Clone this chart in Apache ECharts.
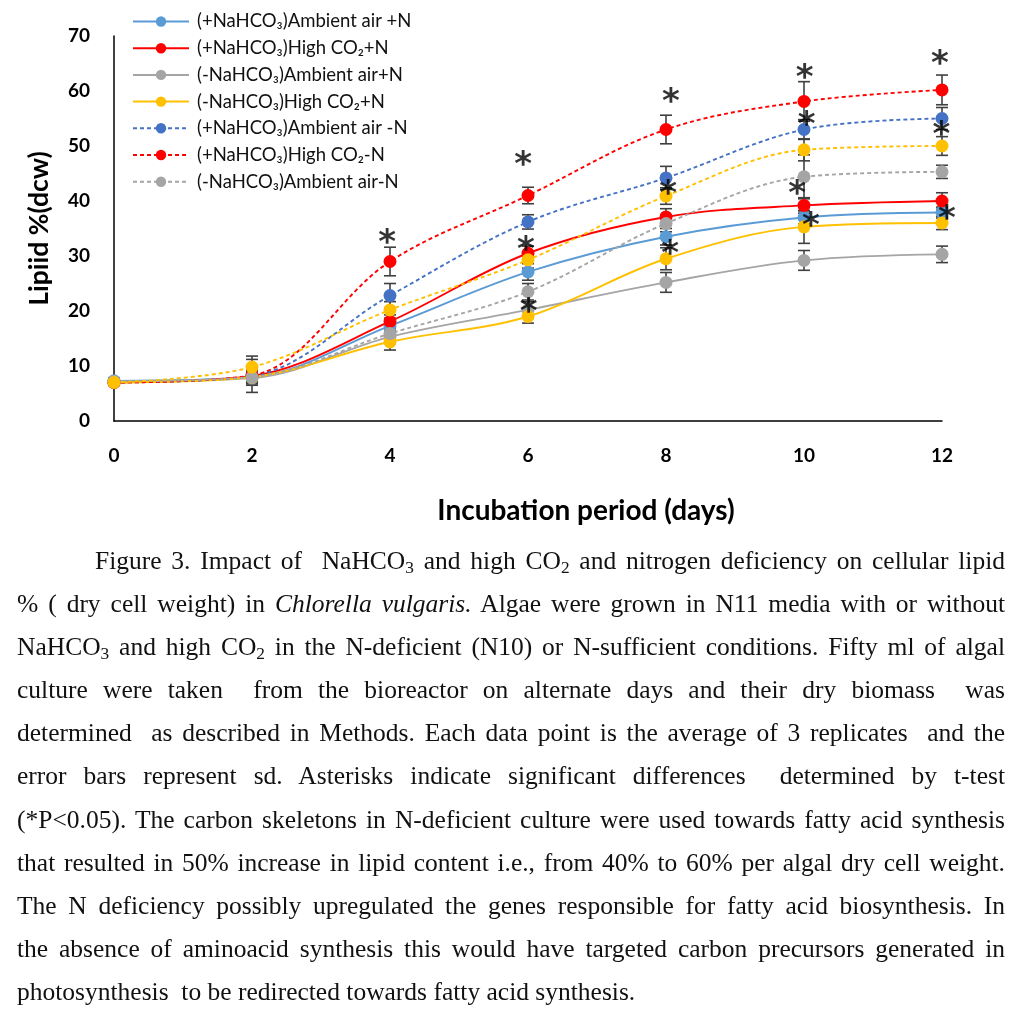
<!DOCTYPE html>
<html>
<head>
<meta charset="utf-8">
<script src="https://cdn.jsdelivr.net/npm/echarts@6/dist/echarts.min.js"></script>
<style>
  html, body { margin:0; padding:0; background:#fff; }
  #chart { position:absolute; left:0; top:0; width:1024px; height:1024px; }
  #caption { position:absolute; left:17px; top:539px; width:988px; font-family:"Liberation Serif","Times New Roman",serif; font-size:25.5px; color:#111; }
  #caption .ln { height:43.1px; line-height:43.1px; text-align:justify; text-align-last:justify; white-space:normal; overflow:hidden; }
  #caption .ln.first { padding-left:78px; }
  #caption .ln.last { text-align-last:left; }
  #caption sub { font-size:0.68em; vertical-align:-0.25em; line-height:0; }
</style>
</head>
<body>
<div id="chart"></div>
<div id="caption">
  <div class="ln first">Figure 3. Impact of&nbsp; NaHCO<sub>3</sub> and high CO<sub>2</sub> and nitrogen deficiency on cellular lipid</div>
  <div class="ln">% ( dry cell weight) in <i>Chlorella vulgaris.</i> Algae were grown in N11 media with or without</div>
  <div class="ln">NaHCO<sub>3</sub> and high CO<sub>2</sub> in the N-deficient (N10) or N-sufficient conditions. Fifty ml of algal</div>
  <div class="ln">culture were taken&nbsp; from the bioreactor on alternate days and their dry biomass&nbsp; was</div>
  <div class="ln">determined&nbsp; as described in Methods. Each data point is the average of 3 replicates&nbsp; and the</div>
  <div class="ln">error bars represent sd. Asterisks indicate significant differences&nbsp; determined by t-test</div>
  <div class="ln">(*P&lt;0.05). The carbon skeletons in N-deficient culture were used towards fatty acid synthesis</div>
  <div class="ln">that resulted in 50% increase in lipid content i.e., from 40% to 60% per algal dry cell weight.</div>
  <div class="ln">The N deficiency possibly upregulated the genes responsible for fatty acid biosynthesis. In</div>
  <div class="ln">the absence of aminoacid synthesis this would have targeted carbon precursors generated in</div>
  <div class="ln last">photosynthesis&nbsp; to be redirected towards fatty acid synthesis.</div>
</div>
<script>
// ---- data ----
const days = [0, 2, 4, 6, 8, 10, 12];
const yTicks = [0, 10, 20, 30, 40, 50, 60, 70];

const seriesNames = [
  "(+NaHCO₃)Ambient air +N",
  "(+NaHCO₃)High CO₂+N",
  "(-NaHCO₃)Ambient air+N",
  "(-NaHCO₃)High CO₂+N",
  "(+NaHCO₃)Ambient air -N",
  "(+NaHCO₃)High CO₂-N",
  "(-NaHCO₃)Ambient air-N",
  "(-NaHCO₃)High CO₂-N"
];
const legendNames = seriesNames.slice(0, 7);

const plusAmbientN   = [7.3, 8.0, 17.3, 27.1, 33.5, 37.0, 37.9];
const plusHighCO2N   = [7.0, 8.2, 18.1, 30.5, 37.1, 39.2, 40.0];
const minusAmbientN  = [7.2, 7.8, 15.3, 20.2, 25.2, 29.2, 30.3];
const minusHighCO2N  = [7.0, 8.0, 14.4, 19.0, 29.5, 35.3, 36.0];
const plusAmbientNoN = [7.0, 8.2, 22.8, 36.2, 44.2, 53.0, 55.0];
const plusHighCO2NoN = [7.0, 8.3, 29.0, 41.0, 53.0, 58.1, 60.2];
const minusAmbientNoN= [7.2, 8.0, 15.9, 23.5, 35.9, 44.4, 45.3];
const minusHighCO2NoN= [7.0, 9.8, 20.2, 29.3, 40.9, 49.3, 50.0];

const sdPlusAmbientN   = [0.5, 1.0, 1.2, 1.5, 1.5, 1.2, 1.0];
const sdPlusHighCO2N   = [0.5, 1.0, 1.2, 1.3, 1.5, 1.4, 1.5];
const sdMinusAmbientN  = [0.5, 1.0, 1.2, 1.5, 1.8, 1.8, 1.5];
const sdMinusHighCO2N  = [0.5, 1.2, 1.5, 1.2, 2.0, 3.0, 1.2];
const sdPlusAmbientNoN = [0.5, 3.0, 2.2, 1.3, 2.1, 1.8, 2.0];
const sdPlusHighCO2NoN = [0.5, 1.5, 2.6, 1.5, 2.6, 3.6, 2.7];
const sdMinusAmbientNoN= [0.5, 1.5, 1.5, 1.5, 1.5, 4.0, 1.2];
const sdMinusHighCO2NoN= [0.5, 2.0, 1.5, 1.5, 1.5, 2.0, 1.7];

// asterisk (significance) marks: x (days) and y (lipid %)
const starX = [3.96, 5.93, 5.97, 6.01, 8.07, 8.03, 8.06, 10.01, 10.04, 9.90, 10.10, 11.97, 11.99, 12.07];
const starY = [33.6, 47.8, 32.4, 21.1, 59.3, 42.5, 31.6, 63.6, 55.1, 42.5, 36.7, 66.2, 53.3, 38.0];

// ---- styles ----
const values = [plusAmbientN, plusHighCO2N, minusAmbientN, minusHighCO2N, plusAmbientNoN, plusHighCO2NoN, minusAmbientNoN, minusHighCO2NoN];
const sds = [sdPlusAmbientN, sdPlusHighCO2N, sdMinusAmbientN, sdMinusHighCO2N, sdPlusAmbientNoN, sdPlusHighCO2NoN, sdMinusAmbientNoN, sdMinusHighCO2NoN];
const colors = ["#5B9BD5", "#FF0000", "#A5A5A5", "#FFC000", "#4472C4", "#FF0000", "#A5A5A5", "#FFC000"];
const dashed = [false, false, false, false, true, true, true, true];

const chartFont = "Lato, 'Open Sans', 'DejaVu Sans', sans-serif";

const chart = echarts.init(document.getElementById('chart'), null, { renderer: 'canvas' });

const errData = [];
values.forEach((vals, i) => {
  vals.forEach((v, j) => {
    errData.push([days[j], v - sds[i][j], v + sds[i][j]]);
  });
});

const series = [];
series.push({
  type: 'custom',
  name: 'err',
  z: 1,
  silent: true,
  data: errData,
  encode: { x: 0, y: [1, 2] },
  renderItem: function (params, api) {
    const x = api.value(0);
    const lo = api.coord([x, api.value(1)]);
    const hi = api.coord([x, api.value(2)]);
    const w = 6;
    const st = { stroke: '#404040', lineWidth: 1.6 };
    return {
      type: 'group',
      children: [
        { type: 'line', shape: { x1: lo[0], y1: lo[1], x2: hi[0], y2: hi[1] }, style: st },
        { type: 'line', shape: { x1: lo[0] - w, y1: lo[1], x2: lo[0] + w, y2: lo[1] }, style: st },
        { type: 'line', shape: { x1: hi[0] - w, y1: hi[1], x2: hi[0] + w, y2: hi[1] }, style: st }
      ]
    };
  }
});

values.forEach((vals, i) => {
  series.push({
    type: 'line',
    name: seriesNames[i],
    z: 2 + i,
    smooth: 0.35,
    symbol: 'circle',
    symbolSize: 13,
    data: vals.map((v, j) => [days[j], v]),
    lineStyle: { color: colors[i], width: 1.9, type: dashed[i] ? [4, 3] : 'solid' },
    itemStyle: { color: colors[i] },
    emphasis: { disabled: true }
  });
});

series.push({
  type: 'scatter',
  name: 'sig',
  z: 20,
  silent: true,
  clip: false,
  symbolSize: 1,
  itemStyle: { color: 'rgba(0,0,0,0)' },
  data: starX.map((x, k) => [x, starY[k]]),
  label: {
    show: true,
    position: 'inside',
    formatter: '*',
    color: '#000',
    fontSize: 34,
    fontWeight: 'bold',
    fontFamily: "'DejaVu Sans', sans-serif",
    offset: [0, 8]
  }
});

chart.setOption({
  animation: false,
  backgroundColor: '#fff',
  textStyle: { fontFamily: chartFont },
  grid: { left: 114, right: 82, top: 36, bottom: 603, containLabel: false },
  legend: {
    data: legendNames,
    orient: 'vertical',
    left: 127,
    top: 7,
    itemWidth: 56,
    itemHeight: 13,
    itemGap: 7.7,
    selectedMode: false,
    textStyle: { fontFamily: chartFont, fontSize: 18.5, color: '#111', padding: [0, 0, 0, 3] }
  },
  xAxis: {
    type: 'value',
    min: 0, max: 12, interval: 2,
    name: 'Incubation period (days)',
    nameLocation: 'middle',
    nameGap: 76,
    nameTextStyle: { fontFamily: chartFont, fontSize: 28, fontWeight: 'bold', color: '#000', padding: [0, 0, 0, 116] },
    axisLine: { lineStyle: { color: '#000', width: 1.5 } },
    axisTick: { show: false },
    splitLine: { show: false },
    axisLabel: { fontSize: 19, fontWeight: 'bold', color: '#000', margin: 25, fontFamily: chartFont,
      formatter: v => days.includes(v) ? String(v) : '' }
  },
  yAxis: {
    type: 'value',
    min: yTicks[0], max: yTicks[yTicks.length - 1], interval: 10,
    name: 'Lipiid %(dcw)',
    nameLocation: 'middle',
    nameGap: 61,
    nameTextStyle: { fontFamily: chartFont, fontSize: 26.5, fontWeight: 'bold', color: '#000' },
    axisLine: { show: true, lineStyle: { color: '#000', width: 1.5 } },
    axisTick: { show: false },
    splitLine: { show: false },
    axisLabel: { fontSize: 19, fontWeight: 'bold', color: '#000', margin: 24, fontFamily: chartFont }
  },
  series: series
});
</script>
</body>
</html>
